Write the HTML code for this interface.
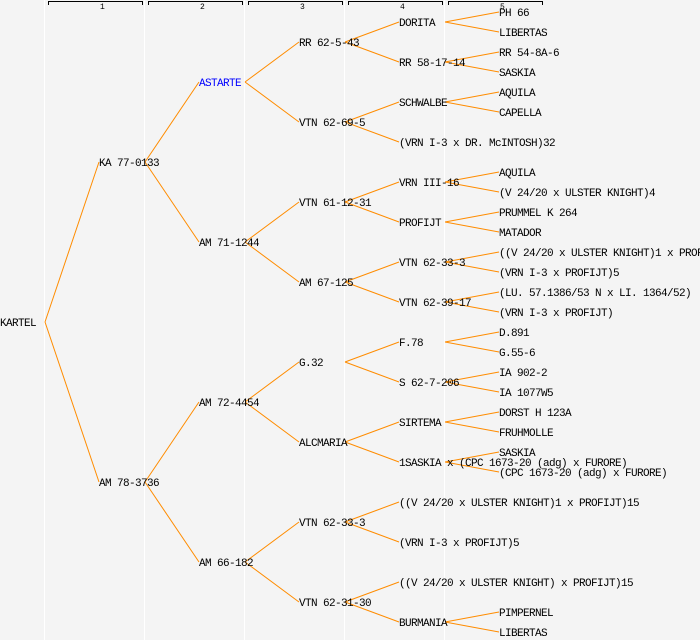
<!DOCTYPE html>
<html><head><meta charset="utf-8"><style>
html,body{margin:0;padding:0;background:#f4f4f4}
svg{display:block}
text{font-family:"Liberation Mono",monospace;font-size:11px;letter-spacing:-0.6px;fill:#000}
.h{font-size:8px;letter-spacing:0}
</style></head><body>
<svg width="700" height="640" viewBox="0 0 700 640" xmlns="http://www.w3.org/2000/svg">
<rect width="700" height="640" fill="#f4f4f4"/>
<g stroke="#ffffff" stroke-width="1">
<line x1="44.5" y1="0" x2="44.5" y2="640"/><line x1="144.5" y1="0" x2="144.5" y2="640"/>
<line x1="244.5" y1="0" x2="244.5" y2="640"/><line x1="344.5" y1="0" x2="344.5" y2="640"/>
<line x1="444.5" y1="0" x2="444.5" y2="640"/>
</g>
<g stroke="#000" stroke-width="1" fill="none">
<path d="M48.5,5 V1.5 H142.5 V5"/><path d="M148.5,5 V1.5 H242.5 V5"/><path d="M248.5,5 V1.5 H342.5 V5"/>
<path d="M348.5,5 V1.5 H442.5 V5"/><path d="M448.5,5 V1.5 H542.5 V5"/>
</g>
<g><text class="h" x="100" y="9">1</text><text class="h" x="200" y="9">2</text><text class="h" x="300" y="9">3</text><text class="h" x="400" y="9">4</text><text class="h" x="500" y="9">5</text></g>
<g stroke="#ff8c00" stroke-width="1" fill="none">
<path d="M45,322L99,162M45,322L99,482"/>
<path d="M145,162L199,82M145,162L199,242M145,482L199,402M145,482L199,562"/>
<path d="M245,82L299,42M245,82L299,122M245,242L299,202M245,242L299,282M245,402L299,362M245,402L299,442M245,562L299,522M245,562L299,602"/>
<path d="M345,42L399,22M345,42L399,62M345,122L399,102M345,122L399,142M345,202L399,182M345,202L399,222M345,282L399,262M345,282L399,302M345,362L399,342M345,362L399,382M345,442L399,422M345,442L399,462M345,522L399,502M345,522L399,542M345,602L399,582M345,602L399,622"/>
<path d="M445,22L499,12M445,22L499,32M445,62L499,52M445,62L499,72M445,102L499,92M445,102L499,112M445,182L499,172M445,182L499,192M445,222L499,212M445,222L499,232M445,262L499,252M445,262L499,272M445,302L499,292M445,302L499,312M445,342L499,332M445,342L499,352M445,382L499,372M445,382L499,392M445,422L499,412M445,422L499,432M445,462L499,452M445,462L499,472M445,622L499,612M445,622L499,632"/>
</g>
<g>
<text x="0" y="326">KARTEL</text>
<text x="99" y="166">KA 77-0133</text><text x="99" y="486">AM 78-3736</text>
<text x="199" y="86" style="fill:#0000ff">ASTARTE</text><text x="199" y="246">AM 71-1244</text><text x="199" y="406">AM 72-4454</text><text x="199" y="566">AM 66-182</text>
<text x="299" y="46">RR 62-5-43</text><text x="299" y="126">VTN 62-69-5</text><text x="299" y="206">VTN 61-12-31</text><text x="299" y="286">AM 67-125</text>
<text x="299" y="366">G.32</text><text x="299" y="446">ALCMARIA</text><text x="299" y="526">VTN 62-33-3</text><text x="299" y="606">VTN 62-31-30</text>
<text x="399" y="26">DORITA</text><text x="399" y="66">RR 58-17-14</text><text x="399" y="106">SCHWALBE</text><text x="399" y="146">(VRN I-3 x DR. McINTOSH)32</text>
<text x="399" y="186">VRN III-16</text><text x="399" y="226">PROFIJT</text><text x="399" y="266">VTN 62-33-3</text><text x="399" y="306">VTN 62-39-17</text>
<text x="399" y="346">F.78</text><text x="399" y="386">S 62-7-206</text><text x="399" y="426">SIRTEMA</text><text x="399" y="466">1SASKIA x (CPC 1673-20 (adg) x FURORE)</text>
<text x="399" y="506">((V 24/20 x ULSTER KNIGHT)1 x PROFIJT)15</text><text x="399" y="546">(VRN I-3 x PROFIJT)5</text>
<text x="399" y="586">((V 24/20 x ULSTER KNIGHT) x PROFIJT)15</text><text x="399" y="626">BURMANIA</text>
<text x="499" y="16">PH 66</text><text x="499" y="36">LIBERTAS</text><text x="499" y="56">RR 54-8A-6</text><text x="499" y="76">SASKIA</text>
<text x="499" y="96">AQUILA</text><text x="499" y="116">CAPELLA</text>
<text x="499" y="176">AQUILA</text><text x="499" y="196">(V 24/20 x ULSTER KNIGHT)4</text><text x="499" y="216">PRUMMEL K 264</text><text x="499" y="236">MATADOR</text>
<text x="499" y="256">((V 24/20 x ULSTER KNIGHT)1 x PROFIJT)15</text><text x="499" y="276">(VRN I-3 x PROFIJT)5</text>
<text x="499" y="296">(LU. 57.1386/53 N x LI. 1364/52)</text><text x="499" y="316">(VRN I-3 x PROFIJT)</text>
<text x="499" y="336">D.891</text><text x="499" y="356">G.55-6</text><text x="499" y="376">IA 902-2</text><text x="499" y="396">IA 1077W5</text>
<text x="499" y="416">DORST H 123A</text><text x="499" y="436">FRUHMOLLE</text><text x="499" y="456">SASKIA</text><text x="499" y="476">(CPC 1673-20 (adg) x FURORE)</text>
<text x="499" y="616">PIMPERNEL</text><text x="499" y="636">LIBERTAS</text>
</g>
</svg>
</body></html>
